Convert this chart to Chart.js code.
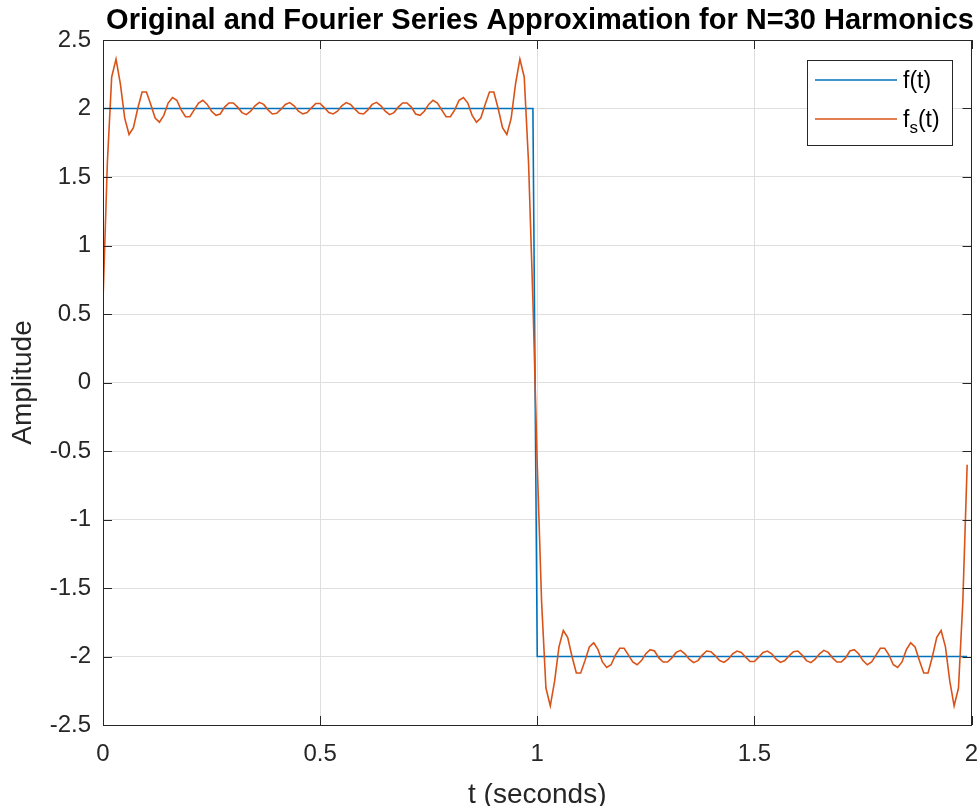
<!DOCTYPE html>
<html>
<head>
<meta charset="utf-8">
<script src="https://cdn.jsdelivr.net/npm/chart.js@4.4.1/dist/chart.umd.min.js"></script>
<style>
  html, body { margin: 0; padding: 0; background: #fff; }
  #wrap { width: 980px; height: 806px; position: relative; }
</style>
</head>
<body>
<div id="wrap"><canvas id="fourierChart"></canvas></div>
<script>
'use strict';

// DATA
// sample times (seconds)
const timeValues = [
  0.00, 0.01, 0.02, 0.03, 0.04, 0.05, 0.06, 0.07, 0.08, 0.09,
  0.10, 0.11, 0.12, 0.13, 0.14, 0.15, 0.16, 0.17, 0.18, 0.19,
  0.20, 0.21, 0.22, 0.23, 0.24, 0.25, 0.26, 0.27, 0.28, 0.29,
  0.30, 0.31, 0.32, 0.33, 0.34, 0.35, 0.36, 0.37, 0.38, 0.39,
  0.40, 0.41, 0.42, 0.43, 0.44, 0.45, 0.46, 0.47, 0.48, 0.49,
  0.50, 0.51, 0.52, 0.53, 0.54, 0.55, 0.56, 0.57, 0.58, 0.59,
  0.60, 0.61, 0.62, 0.63, 0.64, 0.65, 0.66, 0.67, 0.68, 0.69,
  0.70, 0.71, 0.72, 0.73, 0.74, 0.75, 0.76, 0.77, 0.78, 0.79,
  0.80, 0.81, 0.82, 0.83, 0.84, 0.85, 0.86, 0.87, 0.88, 0.89,
  0.90, 0.91, 0.92, 0.93, 0.94, 0.95, 0.96, 0.97, 0.98, 0.99,
  1.00, 1.01, 1.02, 1.03, 1.04, 1.05, 1.06, 1.07, 1.08, 1.09,
  1.10, 1.11, 1.12, 1.13, 1.14, 1.15, 1.16, 1.17, 1.18, 1.19,
  1.20, 1.21, 1.22, 1.23, 1.24, 1.25, 1.26, 1.27, 1.28, 1.29,
  1.30, 1.31, 1.32, 1.33, 1.34, 1.35, 1.36, 1.37, 1.38, 1.39,
  1.40, 1.41, 1.42, 1.43, 1.44, 1.45, 1.46, 1.47, 1.48, 1.49,
  1.50, 1.51, 1.52, 1.53, 1.54, 1.55, 1.56, 1.57, 1.58, 1.59,
  1.60, 1.61, 1.62, 1.63, 1.64, 1.65, 1.66, 1.67, 1.68, 1.69,
  1.70, 1.71, 1.72, 1.73, 1.74, 1.75, 1.76, 1.77, 1.78, 1.79,
  1.80, 1.81, 1.82, 1.83, 1.84, 1.85, 1.86, 1.87, 1.88, 1.89,
  1.90, 1.91, 1.92, 1.93, 1.94, 1.95, 1.96, 1.97, 1.98, 1.99
];

// fs(t) - Fourier approximation
const fsValues = [
  0.60, 1.60, 2.23, 2.36, 2.18, 1.93, 1.81, 1.86, 2.00, 2.12,
  2.12, 2.03, 1.93, 1.90, 1.95, 2.04, 2.08, 2.06, 1.99, 1.94,
  1.94, 1.99, 2.04, 2.06, 2.03, 1.98, 1.95, 1.96, 2.01, 2.04,
  2.04, 2.01, 1.97, 1.955, 1.98, 2.02, 2.045, 2.03, 1.99, 1.96,
  1.965, 1.995, 2.03, 2.043, 2.02, 1.98, 1.96, 1.97, 2.005, 2.037,
  2.037, 2.005, 1.97, 1.96, 1.98, 2.02, 2.043, 2.03, 1.995, 1.965,
  1.96, 1.99, 2.03, 2.045, 2.02, 1.98, 1.955, 1.97, 2.01, 2.04,
  2.04, 2.01, 1.96, 1.95, 1.98, 2.03, 2.06, 2.04, 1.99, 1.94,
  1.94, 1.99, 2.06, 2.08, 2.04, 1.95, 1.90, 1.93, 2.03, 2.12,
  2.12, 2.00, 1.86, 1.81, 1.93, 2.18, 2.36, 2.23, 1.60, 0.60,
  -0.60, -1.60, -2.23, -2.36, -2.18, -1.93, -1.81, -1.86, -2.00, -2.12,
  -2.12, -2.03, -1.93, -1.90, -1.95, -2.04, -2.08, -2.06, -1.99, -1.94,
  -1.94, -1.99, -2.04, -2.06, -2.03, -1.98, -1.95, -1.96, -2.01, -2.04,
  -2.04, -2.01, -1.97, -1.955, -1.98, -2.02, -2.045, -2.03, -1.99, -1.96,
  -1.965, -1.995, -2.03, -2.043, -2.02, -1.98, -1.96, -1.97, -2.005, -2.037,
  -2.037, -2.005, -1.97, -1.96, -1.98, -2.02, -2.043, -2.03, -1.995, -1.965,
  -1.96, -1.99, -2.03, -2.045, -2.02, -1.98, -1.955, -1.97, -2.01, -2.04,
  -2.04, -2.01, -1.96, -1.95, -1.98, -2.03, -2.06, -2.04, -1.99, -1.94,
  -1.94, -1.99, -2.06, -2.08, -2.04, -1.95, -1.90, -1.93, -2.03, -2.12,
  -2.12, -2.00, -1.86, -1.81, -1.93, -2.18, -2.36, -2.23, -1.60, -0.60
];

// f(t) - original square wave (corner points)
const ftTimes = [0, 0.99, 1.0, 1.99];
const ftValues = [2, 2, -2, -2];

// ticks
const xTicks = [0, 0.5, 1, 1.5, 2];
const yTicks = [-2.5, -2, -1.5, -1, -0.5, 0, 0.5, 1, 1.5, 2, 2.5];

// STYLE
const axisColor = '#262626';
const gridColor = '#dfdfdf';
const fontFamily = "'Liberation Sans', Arial, Helvetica, sans-serif";

const toPoints = (xs, ys) => xs.map((x, i) => ({ x: x, y: ys[i] }));

// box + inward tick marks + title + legend (matlab look)
const matlabDecor = {
  id: 'matlabDecor',
  afterDraw(chart) {
    const ctx = chart.ctx;
    const area = chart.chartArea;
    const xScale = chart.scales.x;
    const yScale = chart.scales.y;
    const tickLen = 9;

    ctx.save();
    ctx.strokeStyle = axisColor;
    ctx.lineWidth = 1;

    // box
    ctx.strokeRect(
      Math.round(area.left) + 0.5,
      Math.round(area.top) + 0.5,
      Math.round(area.right - area.left) - 1,
      Math.round(area.bottom - area.top)
    );

    // inward ticks
    ctx.beginPath();
    xTicks.forEach(function (v) {
      const px = Math.round(xScale.getPixelForValue(v)) + 0.5;
      ctx.moveTo(px, area.bottom);
      ctx.lineTo(px, area.bottom - tickLen);
      ctx.moveTo(px, area.top);
      ctx.lineTo(px, area.top + tickLen);
    });
    yTicks.forEach(function (v) {
      const py = Math.round(yScale.getPixelForValue(v)) + 0.5;
      ctx.moveTo(area.left, py);
      ctx.lineTo(area.left + tickLen, py);
      ctx.moveTo(area.right, py);
      ctx.lineTo(area.right - tickLen, py);
    });
    ctx.stroke();

    // title
    ctx.fillStyle = '#000';
    ctx.font = 'bold 29px ' + fontFamily;
    ctx.textAlign = 'center';
    ctx.textBaseline = 'alphabetic';
    ctx.fillText(chart.options.plugins.matlabDecor.title, 540, 29);

    // legend
    const box = { left: 807.5, top: 60.5, width: 145, height: 85 };
    ctx.fillStyle = '#fff';
    ctx.fillRect(box.left, box.top, box.width, box.height);
    ctx.strokeStyle = axisColor;
    ctx.strokeRect(box.left, box.top, box.width, box.height);

    const rows = [80, 119];
    chart.data.datasets.forEach(function (ds, i) {
      const y = rows[i];
      ctx.strokeStyle = ds.borderColor;
      ctx.lineWidth = 1.6;
      ctx.beginPath();
      ctx.moveTo(815, y);
      ctx.lineTo(897, y);
      ctx.stroke();

      ctx.fillStyle = '#000';
      ctx.textAlign = 'left';
      ctx.font = '23px ' + fontFamily;
      const parts = ds.label.split('_');
      if (parts.length === 1) {
        ctx.fillText(parts[0], 903, y + 8);
      } else {
        // f_s(t) -> f, subscript s, (t)
        const head = parts[0];
        const sub = parts[1].charAt(0);
        const tail = parts[1].slice(1);
        ctx.fillText(head, 903, y + 8);
        let x = 903 + ctx.measureText(head).width;
        ctx.font = '17px ' + fontFamily;
        ctx.fillText(sub, x, y + 14);
        x += ctx.measureText(sub).width;
        ctx.font = '23px ' + fontFamily;
        ctx.fillText(tail, x, y + 8);
      }
    });
    ctx.restore();
  }
};

// CHART
const ctx = document.getElementById('fourierChart').getContext('2d');

const chart = new Chart(ctx, {
  type: 'line',
  data: {
    datasets: [
      {
        label: 'f(t)',
        data: toPoints(ftTimes, ftValues),
        borderColor: '#0072BD',
        borderWidth: 1.6,
        pointRadius: 0,
        tension: 0,
        order: 1,
      },
      {
        label: 'f_s(t)',
        data: toPoints(timeValues, fsValues),
        borderColor: '#D95319',
        borderWidth: 1.6,
        pointRadius: 0,
        tension: 0,
        order: 0,
      },
    ],
  },
  options: {
    responsive: true,
    maintainAspectRatio: false,
    animation: false,
    devicePixelRatio: 1,
    layout: {
      padding: { top: 40, right: 8.5, bottom: 0, left: 0 },
    },
    plugins: {
      legend: { display: false },
      tooltip: { enabled: false },
      matlabDecor: {
        title: 'Original and Fourier Series Approximation for N=30 Harmonics',
      },
    },
    scales: {
      x: {
        type: 'linear',
        min: 0,
        max: 2,
        afterBuildTicks: function (scale) {
          scale.ticks = xTicks.map(v => ({ value: v }));
        },
        afterFit: function (scale) {
          scale.height = 81;
          scale.paddingLeft = 0;
          scale.paddingRight = 0;
        },
        grid: { color: gridColor, drawTicks: false },
        border: { display: false },
        ticks: {
          color: axisColor,
          font: { family: fontFamily, size: 24 },
          padding: 15,
          maxRotation: 0,
          callback: v => String(v),
        },
        title: {
          display: true,
          text: 't (seconds)',
          color: axisColor,
          font: { family: fontFamily, size: 28, lineHeight: 1 },
          padding: { top: 0, bottom: -3 },
        },
      },
      y: {
        type: 'linear',
        min: -2.5,
        max: 2.5,
        afterBuildTicks: function (scale) {
          scale.ticks = yTicks.map(v => ({ value: v }));
        },
        afterFit: function (scale) {
          scale.width = 103;
          scale.paddingTop = 0;
          scale.paddingBottom = 0;
        },
        grid: { color: gridColor, drawTicks: false },
        border: { display: false },
        ticks: {
          color: axisColor,
          font: { family: fontFamily, size: 24 },
          padding: 12,
          callback: v => String(v),
        },
        title: {
          display: true,
          text: 'Amplitude',
          color: axisColor,
          font: { family: fontFamily, size: 28, lineHeight: 1 },
          padding: { top: 9, bottom: 0 },
        },
      },
    },
  },
  plugins: [matlabDecor],
});
</script>
</body>
</html>
